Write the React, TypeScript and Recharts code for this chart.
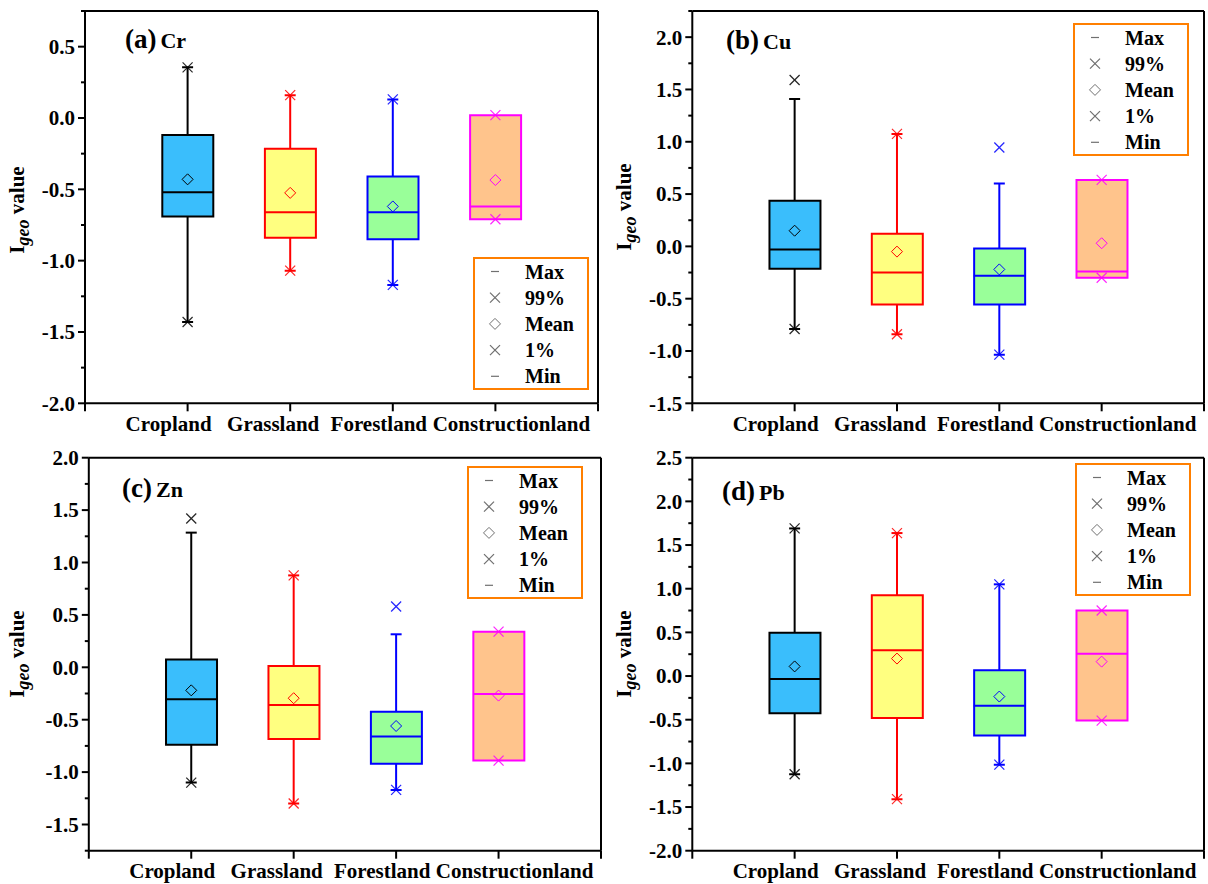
import React from 'react';
import { ComposedChart, Bar, Cell, Scatter, XAxis, YAxis, ReferenceLine } from 'recharts';

// ---------- data ----------
const categories = ['Cropland', 'Grassland', 'Forestland', 'Constructionland'];
const categoryPositions = [1, 2, 3, 4];
const xTicks = [0, 1, 2, 3, 4, 5];
const legendItems = ['Max', '99%', 'Mean', '1%', 'Min'];

// (a) Cr
const crLow = [-1.43, -1.07, -1.17, -0.71];
const crQ1 = [-0.69, -0.84, -0.85, -0.71];
const crMedian = [-0.52, -0.66, -0.66, -0.62];
const crQ3 = [-0.12, -0.215, -0.41, 0.02];
const crHigh = [0.355, 0.16, 0.13, 0.02];
const crMean = [-0.43, -0.525, -0.62, -0.435];
const crP1 = [-1.43, -1.07, -1.17, -0.71];
const crP99 = [0.355, 0.16, 0.13, 0.02];
const crTicks = [-2, -1.75, -1.5, -1.25, -1, -0.75, -0.5, -0.25, 0, 0.25, 0.5, 0.75];

// (b) Cu
const cuLow = [-0.79, -0.84, -1.035, -0.30];
const cuQ1 = [-0.215, -0.555, -0.555, -0.30];
const cuMedian = [-0.03, -0.25, -0.28, -0.24];
const cuQ3 = [0.435, 0.12, -0.02, 0.635];
const cuHigh = [1.41, 1.075, 0.60, 0.635];
const cuMean = [0.15, -0.05, -0.22, 0.03];
const cuP1 = [-0.79, -0.84, -1.035, -0.30];
const cuP99 = [1.59, 1.075, 0.945, 0.635];
const cuTicks = [-1.5, -1.25, -1, -0.75, -0.5, -0.25, 0, 0.25, 0.5, 0.75, 1, 1.25, 1.5, 1.75, 2, 2.25];

// (c) Zn
const znLow = [-1.10, -1.30, -1.17, -0.89];
const znQ1 = [-0.74, -0.685, -0.92, -0.89];
const znMedian = [-0.305, -0.36, -0.66, -0.255];
const znQ3 = [0.075, 0.012, -0.425, 0.34];
const znHigh = [1.285, 0.877, 0.315, 0.34];
const znMean = [-0.22, -0.295, -0.56, -0.27];
const znP1 = [-1.10, -1.30, -1.17, -0.89];
const znP99 = [1.42, 0.877, 0.58, 0.34];
const znTicks = [-1.75, -1.5, -1.25, -1, -0.75, -0.5, -0.25, 0, 0.25, 0.5, 0.75, 1, 1.25, 1.5, 1.75, 2];

// (d) Pb
const pbLow = [-1.125, -1.41, -1.015, -0.51];
const pbQ1 = [-0.425, -0.48, -0.68, -0.51];
const pbMedian = [-0.035, 0.295, -0.34, 0.255];
const pbQ3 = [0.495, 0.925, 0.065, 0.75];
const pbHigh = [1.69, 1.637, 1.05, 0.75];
const pbMean = [0.11, 0.20, -0.235, 0.165];
const pbP1 = [-1.125, -1.41, -1.015, -0.51];
const pbP99 = [1.69, 1.637, 1.05, 0.75];
const pbTicks = [-2, -1.75, -1.5, -1.25, -1, -0.75, -0.5, -0.25, 0, 0.25, 0.5, 0.75, 1, 1.25, 1.5, 1.75, 2, 2.25, 2.5];

// ---------- styles ----------
const fills = ['#3ABEFC', '#FFFF80', '#99FF99', '#FFC48C'];
const strokes = ['#000000', '#FF0000', '#0000FF', '#FF00FF'];
const FONT = "'Liberation Serif', 'Times New Roman', serif";
const labelShift = [-19, -17, -14, 16];
const BOX_W = 51;
const CAP_W = 11;

const panels = [
  {
    tag: '(a)', el: 'Cr', low: crLow, q1: crQ1, median: crMedian, q3: crQ3, high: crHigh, mean: crMean, p1: crP1, p99: crP99,
    ticks: crTicks,
    box: { left: 0, top: 0, width: 604, height: 440, margin: { top: 11, right: 6, bottom: 6.7, left: 25 } },
    title: { x: 125, y: 48 }, ylab: { x: 24, y: 210 }, legend: { x: 474, y: 258 },
  },
  {
    tag: '(b)', el: 'Cu', low: cuLow, q1: cuQ1, median: cuMedian, q3: cuQ3, high: cuHigh, mean: cuMean, p1: cuP1, p99: cuP99,
    ticks: cuTicks,
    box: { left: 604, top: 0, width: 604, height: 440, margin: { top: 11, right: 4, bottom: 6.7, left: 28.3 } },
    title: { x: 726, y: 49 }, ylab: { x: 631, y: 207 }, legend: { x: 1074, y: 24 },
  },
  {
    tag: '(c)', el: 'Zn', low: znLow, q1: znQ1, median: znMedian, q3: znQ3, high: znHigh, mean: znMean, p1: znP1, p99: znP99,
    ticks: znTicks,
    box: { left: 0, top: 440, width: 604, height: 444, margin: { top: 17.7, right: 3, bottom: 3.3, left: 28.8 } },
    title: { x: 122, y: 497 }, ylab: { x: 24, y: 654 }, legend: { x: 468, y: 467 },
  },
  {
    tag: '(d)', el: 'Pb', low: pbLow, q1: pbQ1, median: pbMedian, q3: pbQ3, high: pbHigh, mean: pbMean, p1: pbP1, p99: pbP99,
    ticks: pbTicks,
    box: { left: 604, top: 440, width: 604, height: 444, margin: { top: 17.7, right: 4, bottom: 3.3, left: 28.3 } },
    title: { x: 722, y: 500 }, ylab: { x: 631, y: 654 }, legend: { x: 1076, y: 464 },
  },
];

// ---------- tick renderers ----------
const Y_TICK = 7;
const Y_MARGIN = 3;
const YTick = (props: any) => {
  const { x, y, payload } = props;
  const v = payload.value as number;
  const major = Math.abs(v * 2 - Math.round(v * 2)) < 1e-6;
  const axisX = x + Y_MARGIN + Y_TICK;
  return (
    <g>
      <line x1={axisX} x2={axisX - (major ? 7 : 4)} y1={y} y2={y} stroke="#000" strokeWidth={2} />
      {major && (
        <text x={x} y={y} dy="0.35em" textAnchor="end" fontFamily={FONT} fontWeight="bold" fontSize={21} fill="#000">
          {v.toFixed(1)}
        </text>
      )}
    </g>
  );
};

const X_TICK = 8;
const X_MARGIN = 5;
const XTick = (props: any) => {
  const { x, y, payload } = props;
  const idx = Math.round(payload.value) - 1;
  const name = categories[idx];
  const axisY = y - X_TICK - X_MARGIN;
  return (
    <g>
      <line x1={x} x2={x} y1={axisY} y2={axisY + X_TICK} stroke="#000" strokeWidth={2} />
      {name && (
        <text x={x + labelShift[idx]} y={y} dy="0.7em" textAnchor="middle" fontFamily={FONT} fontWeight="bold" fontSize={21} fill="#000">
          {name}
        </text>
      )}
    </g>
  );
};

// ---------- marker shapes ----------
const capShape = (color: string, show: boolean) => (p: any) =>
  show ? <line x1={p.cx - CAP_W / 2} x2={p.cx + CAP_W / 2} y1={p.cy} y2={p.cy} stroke={color} strokeWidth={2} /> : <g />;
const medianShape = (p: any) => {
  const c = strokes[Math.round(p.payload.x) - 1];
  return <line x1={p.cx - BOX_W / 2} x2={p.cx + BOX_W / 2} y1={p.cy} y2={p.cy} stroke={c} strokeWidth={2} />;
};
const diamondShape = (p: any) => {
  const c = strokes[Math.round(p.payload.x) - 1];
  const r = 5.5;
  return (
    <path d={`M${p.cx},${p.cy - r}L${p.cx + r},${p.cy}L${p.cx},${p.cy + r}L${p.cx - r},${p.cy}Z`} fill="none" stroke={c} strokeWidth={1} />
  );
};
const crossShape = (p: any) => {
  const c = strokes[Math.round(p.payload.x) - 1];
  const r = 5;
  return (
    <g stroke={c} strokeWidth={1.2} opacity={0.85}>
      <line x1={p.cx - r} y1={p.cy - r} x2={p.cx + r} y2={p.cy + r} />
      <line x1={p.cx - r} y1={p.cy + r} x2={p.cx + r} y2={p.cy - r} />
    </g>
  );
};

// ---------- legend symbols ----------
const LegendSymbol = ({ kind, x, y }: { kind: number; x: number; y: number }) => {
  const c = '#707070';
  if (kind === 0 || kind === 4) return <line x1={x - 4} x2={x + 4} y1={y} y2={y} stroke={c} strokeWidth={1.2} />;
  if (kind === 2)
    return <path d={`M${x},${y - 5.5}L${x + 5.5},${y}L${x},${y + 5.5}L${x - 5.5},${y}Z`} fill="none" stroke={c} strokeWidth={1} />;
  return (
    <g stroke={c} strokeWidth={1.2}>
      <line x1={x - 5} y1={y - 5} x2={x + 5} y2={y + 5} />
      <line x1={x - 5} y1={y + 5} x2={x + 5} y2={y - 5} />
    </g>
  );
};

const Panel = ({ p }: { p: (typeof panels)[number] }) => {
  const rows = categoryPositions.map((x, i) => ({ x, box: [p.q1[i], p.q3[i]] }));
  const domain = [p.ticks[0], p.ticks[p.ticks.length - 1]];
  const pts = (arr: number[]) => categoryPositions.map((x, i) => ({ x, y: arr[i] }));
  return (
    <div style={{ position: 'absolute', left: p.box.left, top: p.box.top }}>
      <ComposedChart width={p.box.width} height={p.box.height} data={rows} margin={p.box.margin}>
        <XAxis
          type="number"
          dataKey="x"
          domain={[0, 5]}
          ticks={xTicks}
          interval={0}
          height={30}
          axisLine={{ stroke: '#000', strokeWidth: 2 }}
          tickLine={false}
          tickSize={X_TICK}
          tickMargin={X_MARGIN}
          tick={(props: any) => <XTick {...props} />}
        />
        <YAxis
          type="number"
          domain={domain}
          ticks={p.ticks}
          interval={0}
          width={60}
          allowDataOverflow
          axisLine={{ stroke: '#000', strokeWidth: 2 }}
          tickLine={false}
          tickSize={Y_TICK}
          tickMargin={Y_MARGIN}
          tick={(props: any) => <YTick {...props} />}
        />
        <ReferenceLine y={domain[1]} stroke="#000" strokeWidth={2} ifOverflow="visible" />
        <ReferenceLine x={5} stroke="#000" strokeWidth={2} ifOverflow="visible" />
        <Bar dataKey="box" barSize={BOX_W} strokeWidth={2} isAnimationActive={false}>
          {rows.map((r, i) => (
            <Cell key={i} fill={fills[i]} stroke={strokes[i]} />
          ))}
        </Bar>
        {categoryPositions.map((x, i) => (
          <Scatter
            key={'wu' + i}
            data={[{ x, y: p.q3[i], end: false }, { x, y: p.high[i], end: true }]}
            dataKey="y"
            fill={strokes[i]}
            line={{ stroke: strokes[i], strokeWidth: 2 }}
            lineType="joint"
            shape={(s: any) => capShape(strokes[i], s.payload.end && p.high[i] > p.q3[i])(s)}
            isAnimationActive={false}
          />
        ))}
        {categoryPositions.map((x, i) => (
          <Scatter
            key={'wl' + i}
            data={[{ x, y: p.q1[i], end: false }, { x, y: p.low[i], end: true }]}
            dataKey="y"
            fill={strokes[i]}
            line={{ stroke: strokes[i], strokeWidth: 2 }}
            lineType="joint"
            shape={(s: any) => capShape(strokes[i], s.payload.end && p.low[i] < p.q1[i])(s)}
            isAnimationActive={false}
          />
        ))}
        <Scatter data={pts(p.median)} dataKey="y" shape={medianShape} isAnimationActive={false} />
        <Scatter data={pts(p.mean)} dataKey="y" shape={diamondShape} isAnimationActive={false} />
        <Scatter data={pts(p.p99)} dataKey="y" shape={crossShape} isAnimationActive={false} />
        <Scatter data={pts(p.p1)} dataKey="y" shape={crossShape} isAnimationActive={false} />
      </ComposedChart>
    </div>
  );
};

export default function App() {
  return (
    <div style={{ position: 'absolute', left: 0, top: 0, width: 1208, height: 884, background: '#fff', overflow: 'hidden' }}>
      {panels.map((p) => (
        <Panel key={p.tag} p={p} />
      ))}
      <svg width={1208} height={884} style={{ position: 'absolute', left: 0, top: 0, pointerEvents: 'none' }}>
        {panels.map((p) => (
          <g key={p.tag} fontFamily={FONT} fontWeight="bold" fill="#000">
            <text x={p.title.x} y={p.title.y} fontSize={27}>
              {p.tag}
              <tspan dx={4} fontSize={22}>{p.el}</tspan>
            </text>
            <text transform={`translate(${p.ylab.x},${p.ylab.y}) rotate(-90)`} textAnchor="middle" fontSize={21}>
              I
              <tspan fontStyle="italic" fontSize={18} dy={5}>geo</tspan>
              <tspan dy={-5} fontSize={21}> value</tspan>
            </text>
            <rect x={p.legend.x} y={p.legend.y} width={114} height={131} fill="#fff" stroke="#FF7F00" strokeWidth={2} />
            {legendItems.map((it, k) => {
              const cy = p.legend.y + 13.5 + k * 26.2;
              return (
                <g key={it}>
                  <LegendSymbol kind={k} x={p.legend.x + 21} y={cy} />
                  <text x={p.legend.x + 51} y={cy} dy="0.35em" fontSize={20}>
                    {it}
                  </text>
                </g>
              );
            })}
          </g>
        ))}
      </svg>
    </div>
  );
}
